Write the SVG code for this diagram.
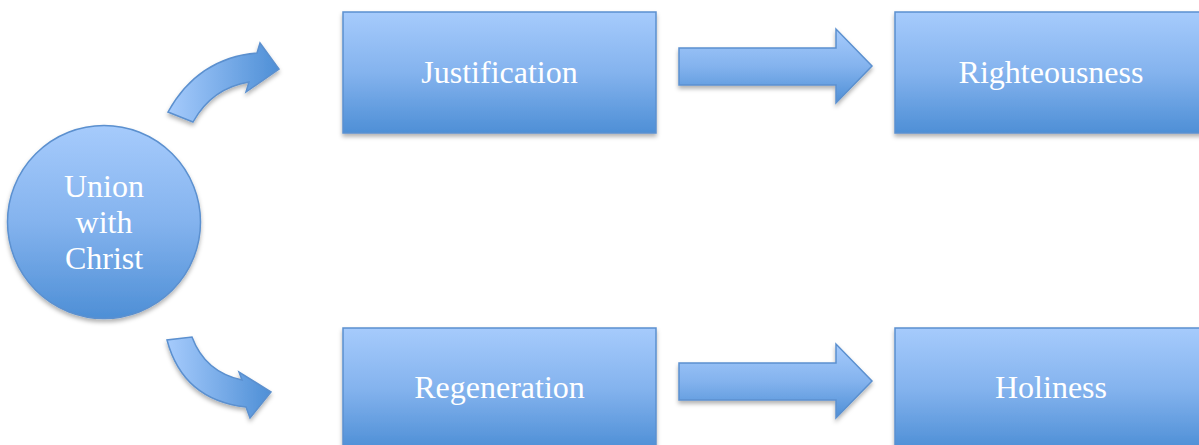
<svg xmlns="http://www.w3.org/2000/svg" width="1199" height="445" viewBox="0 0 1199 445">
<defs>
<linearGradient id="gv" x1="0" y1="0" x2="0" y2="1">
<stop offset="0" stop-color="#a6cbfc"/>
<stop offset="0.5" stop-color="#84b3ee"/>
<stop offset="1" stop-color="#4e8fd6"/>
</linearGradient>
<linearGradient id="gh" x1="0" y1="0" x2="1" y2="0">
<stop offset="0" stop-color="#a6cbfc"/>
<stop offset="1" stop-color="#4e8fd6"/>
</linearGradient>
<filter id="sh" x="-10%" y="-10%" width="125%" height="130%">
<feDropShadow dx="0" dy="3" stdDeviation="2" flood-color="#000" flood-opacity="0.3"/>
</filter>
</defs>
<style>
.n{fill:url(#gv);stroke:#5b90cf;stroke-width:1.5;filter:url(#sh)}
.c{fill:url(#gh);stroke:#5b90cf;stroke-width:1.5;filter:url(#sh)}
.b{fill:url(#gv);stroke:#5b90cf;stroke-width:1.5;filter:url(#sh)}
.t{font-family:'Liberation Serif','Times New Roman',serif;font-size:32px;fill:#fff;text-anchor:middle}
</style>
<rect width="1199" height="445" fill="#fff"/>
<g id="union">
<circle class="n" cx="104" cy="222" r="96.5"/>
<text class="t" x="104" y="197">Union</text>
<text class="t" x="104" y="233">with</text>
<text class="t" x="104" y="269">Christ</text>
</g>
<g id="justification">
<rect class="n" x="343" y="12" width="313" height="121"/>
<text class="t" x="499.5" y="83">Justification</text>
</g>
<g id="righteousness">
<rect class="n" x="895" y="12" width="313" height="121"/>
<text class="t" x="1051" y="83">Righteousness</text>
</g>
<g id="regeneration">
<rect class="n" x="343" y="328" width="313" height="121"/>
<text class="t" x="499.5" y="398">Regeneration</text>
</g>
<g id="holiness">
<rect class="n" x="895" y="328" width="313" height="121"/>
<text class="t" x="1051" y="398">Holiness</text>
</g>
<g id="connectors">
<path class="c" d="M168,112 Q198,58 257,53 L260,43 L279,69 L246,92 L249,82 Q212,88 193,122 Z"/>
<path class="c" d="M167,340 Q183,400 246,407 L250,418 L271,392 L239,372 L242,380 Q205,372 192,337 Z"/>
<path class="b" d="M679,48 L836,48 L836,29 L872,66 L836,103 L836,85 L679,85 Z"/>
<path class="b" d="M679,363 L836,363 L836,344 L872,381 L836,418 L836,400 L679,400 Z"/>
</g>
</svg>
